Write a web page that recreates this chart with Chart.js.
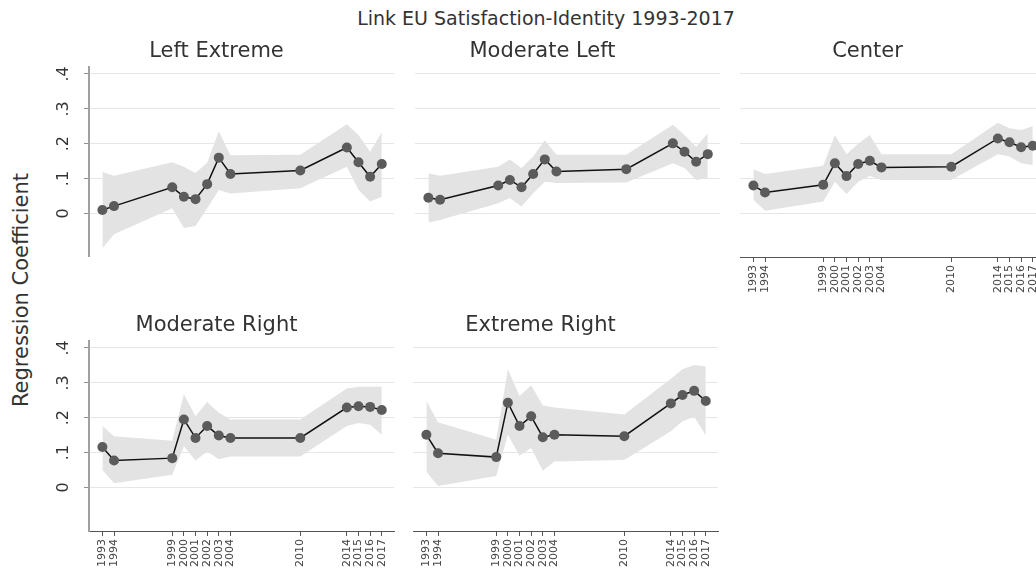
<!DOCTYPE html>
<html>
<head>
<meta charset="utf-8">
<script src="https://cdn.jsdelivr.net/npm/chart.js@4.4.0/dist/chart.umd.min.js"></script>
<style>
  html, body { margin: 0; padding: 0; background: #fff; }
  body { width: 1036px; height: 569px; overflow: hidden; position: relative; font-family: 'DejaVu Sans', sans-serif; }
  canvas { position: absolute; }
  #mainTitle { position: absolute; left: 346px; top: 7px; width: 400px; text-align: center; font-size: 19px; line-height: 22px; color: #333; white-space: nowrap; }
  #yTitle { position: absolute; left: -129px; top: 278px; width: 300px; height: 24px; line-height: 24px; text-align: center; font-size: 21px; color: #333; transform: rotate(-90deg); white-space: nowrap; }
</style>
</head>
<body>
<div id="mainTitle">Link EU Satisfaction-Identity 1993-2017</div>
<div id="yTitle">Regression Coefficient</div>
<canvas id="p1"></canvas>
<canvas id="p2"></canvas>
<canvas id="p3"></canvas>
<canvas id="p4"></canvas>
<canvas id="p5"></canvas>
<script>
const years = [1993, 1994, 1999, 2000, 2001, 2002, 2003, 2004, 2010, 2014, 2015, 2016, 2017];
const yTicks = [0, 0.1, 0.2, 0.3, 0.4];
const panelTitles = ['Left Extreme', 'Moderate Left', 'Center', 'Moderate Right', 'Extreme Right'];

// coefficient and 95% band per party family
const leftExtremeCoef = [0.010, 0.021, 0.075, 0.048, 0.041, 0.084, 0.160, 0.113, 0.123, 0.189, 0.147, 0.105, 0.142];
const leftExtremeLo   = [-0.100, -0.060, 0.015, -0.042, -0.036, 0.015, 0.067, 0.057, 0.072, 0.134, 0.067, 0.034, 0.048];
const leftExtremeHi   = [0.119, 0.108, 0.147, 0.134, 0.116, 0.145, 0.236, 0.167, 0.168, 0.256, 0.225, 0.177, 0.233];

const modLeftCoef = [0.045, 0.039, 0.080, 0.096, 0.075, 0.113, 0.155, 0.120, 0.127, 0.201, 0.177, 0.148, 0.170];
const modLeftLo   = [-0.026, -0.019, 0.029, 0.044, 0.020, 0.058, 0.091, 0.087, 0.089, 0.144, 0.130, 0.096, 0.101];
const modLeftHi   = [0.115, 0.108, 0.134, 0.155, 0.130, 0.163, 0.210, 0.168, 0.168, 0.254, 0.225, 0.191, 0.230];

const centerCoef = [0.080, 0.060, 0.082, 0.144, 0.107, 0.142, 0.151, 0.132, 0.134, 0.215, 0.204, 0.190, 0.194];
const centerLo   = [0.039, 0.008, 0.034, 0.091, 0.056, 0.091, 0.107, 0.096, 0.096, 0.170, 0.163, 0.144, 0.139];
const centerHi   = [0.127, 0.113, 0.137, 0.225, 0.170, 0.200, 0.225, 0.170, 0.170, 0.260, 0.244, 0.239, 0.250];

const modRightCoef = [0.116, 0.077, 0.084, 0.195, 0.142, 0.176, 0.149, 0.142, 0.142, 0.229, 0.233, 0.231, 0.222];
const modRightLo   = [0.050, 0.012, 0.036, 0.118, 0.077, 0.103, 0.081, 0.089, 0.089, 0.176, 0.185, 0.180, 0.151];
const modRightHi   = [0.176, 0.147, 0.134, 0.267, 0.204, 0.245, 0.214, 0.195, 0.195, 0.284, 0.289, 0.289, 0.289];

const extRightCoef = [0.151, 0.098, 0.087, 0.243, 0.176, 0.204, 0.144, 0.151, 0.147, 0.241, 0.265, 0.277, 0.248];
const extRightLo   = [0.045, 0.004, 0.033, 0.151, 0.091, 0.113, 0.048, 0.074, 0.079, 0.161, 0.190, 0.203, 0.149];
const extRightHi   = [0.248, 0.187, 0.137, 0.339, 0.262, 0.293, 0.235, 0.229, 0.209, 0.312, 0.339, 0.351, 0.347];

Chart.defaults.font.family = 'DejaVu Sans';

const panels = [
  { id: 'p1', title: panelTitles[0], coef: leftExtremeCoef, lo: leftExtremeLo, hi: leftExtremeHi, left: 89, top: 67, showY: true, showX: false },
  { id: 'p2', title: panelTitles[1], coef: modLeftCoef, lo: modLeftLo, hi: modLeftHi, left: 415, top: 67, showY: false, showX: false },
  { id: 'p3', title: panelTitles[2], coef: centerCoef, lo: centerLo, hi: centerHi, left: 740, top: 67, showY: false, showX: true },
  { id: 'p4', title: panelTitles[3], coef: modRightCoef, lo: modRightLo, hi: modRightHi, left: 89, top: 341, showY: true, showX: true },
  { id: 'p5', title: panelTitles[4], coef: extRightCoef, lo: extRightLo, hi: extRightHi, left: 413, top: 341, showY: false, showX: true }
];

const AXW = 50, PW = 305, PH = 190, TB = 34, XH = 45;

function pts(arr) {
  return years.map((yr, i) => ({ x: yr, y: arr[i] }));
}

function makePanel(p) {
  const cv = document.getElementById(p.id);
  cv.width = AXW + PW + 10;
  cv.height = TB + PH + (p.showX ? XH : 0);
  cv.style.left = (p.left - AXW) + 'px';
  cv.style.top = (p.top - TB) + 'px';

  new Chart(cv.getContext('2d'), {
    type: 'line',
    data: {
      datasets: [
        { data: pts(p.hi), fill: '+1', backgroundColor: '#e3e3e3', borderColor: 'rgba(0,0,0,0)', borderWidth: 0, pointRadius: 0, order: 2 },
        { data: pts(p.lo), fill: false, borderColor: 'rgba(0,0,0,0)', borderWidth: 0, pointRadius: 0, order: 2 },
        { data: pts(p.coef), fill: false, borderColor: '#111', borderWidth: 1.5, pointRadius: 5,
          pointBackgroundColor: '#5b5b5b', pointBorderColor: '#5b5b5b', pointBorderWidth: 0, tension: 0, order: 1 }
      ]
    },
    options: {
      responsive: false,
      animation: false,
      layout: { autoPadding: false, padding: { left: 0, right: 10, top: 0, bottom: 0 } },
      plugins: {
        legend: { display: false },
        tooltip: { enabled: false },
        filler: { drawTime: 'beforeDatasetsDraw' },
        title: {
          display: true,
          text: p.title,
          color: '#333',
          font: { size: 21, weight: 'normal', lineHeight: 1.2 },
          padding: { top: 6, bottom: 2.8 }
        }
      },
      scales: {
        x: {
          type: 'linear',
          min: 1991.85,
          max: 2018.05,
          display: p.showX,
          afterBuildTicks: s => { s.ticks = years.map(v => ({ value: v })); },
          afterFit: s => {
            if (p.showX) s.height = XH;
            s.paddingLeft = 0;
            s.paddingRight = 0;
          },
          border: { display: true, color: '#555', width: 1 },
          grid: { drawOnChartArea: false, drawTicks: true, tickLength: 5, tickColor: '#555' },
          ticks: {
            autoSkip: false, minRotation: 90, maxRotation: 90, padding: 3,
            color: '#444', font: { size: 11 },
            callback: v => String(v)
          }
        },
        y: {
          type: 'linear',
          min: -0.125,
          max: 0.42,
          afterBuildTicks: s => { s.ticks = yTicks.map(v => ({ value: v })); },
          afterFit: s => {
            s.width = AXW;
            s.paddingTop = 0;
            s.paddingBottom = 0;
          },
          border: { display: p.showY, color: '#a0a0a0', width: 2 },
          grid: { color: '#e6e6e6', lineWidth: 1, drawTicks: p.showY, tickLength: 5, tickColor: '#909090' },
          ticks: {
            display: p.showY, minRotation: 90, maxRotation: 90, crossAlign: 'center', padding: 13,
            color: '#333', font: { size: 16 },
            callback: v => v === 0 ? '0' : String(v).replace(/^0/, '')
          }
        }
      }
    }
  });
}

panels.forEach(makePanel);
</script>
</body>
</html>
